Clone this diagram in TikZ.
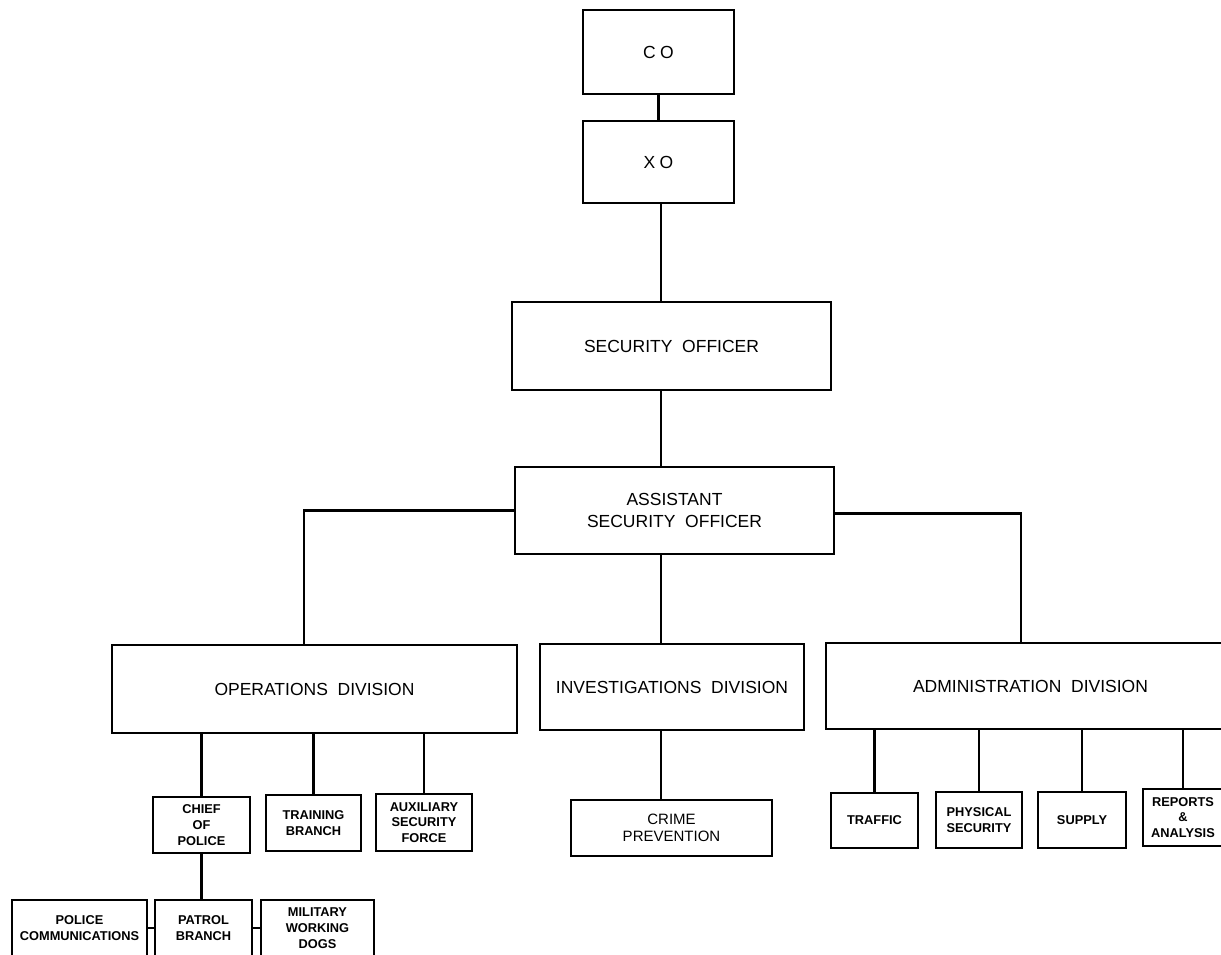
\documentclass[tikz,border=0pt]{standalone}
\usepackage{fontspec}
\setmainfont{Liberation Sans}
\newfontfamily\widefont[LetterSpace=25]{Liberation Sans}
\begin{document}
\begin{tikzpicture}[x=1pt,y=-1pt,
  box/.style={draw, line width=1.5pt, inner sep=0pt, align=center, rectangle},
  bigbox/.style={box, font=\fontsize{17.5}{22}\selectfont},
  smallbox/.style={box, font=\fontsize{12.8}{15.8}\selectfont\bfseries},
  link/.style={line width=2.2pt}]
\useasboundingbox (0,0) rectangle (1221,954);
\fill[white] (0,0) rectangle (1221,954);
\coordinate (spine) at (661,0);
% top chain
\node[bigbox, minimum width=151pt, minimum height=84pt] (co) at (658.5,52) {\widefont\fontsize{17.5}{22}\selectfont CO};
\node[bigbox, minimum width=151pt, minimum height=82pt] (xo) at (658.5,162) {\widefont\fontsize{17.5}{22}\selectfont XO};
\node[bigbox, minimum width=319pt, minimum height=88pt] (so) at (671.5,346) {SECURITY\ \ OFFICER};
\node[bigbox, minimum width=319pt, minimum height=87pt] (aso) at (674.5,510.5) {ASSISTANT\\SECURITY\ \ OFFICER};
% divisions
\node[bigbox, minimum width=405pt, minimum height=88pt] (ops) at (314.5,689) {OPERATIONS\ \ DIVISION};
\node[bigbox, minimum width=264pt, minimum height=86pt] (inv) at (672,687) {INVESTIGATIONS\ \ DIVISION};
\node[bigbox, minimum width=409pt, minimum height=86pt] (adm) at (1030.5,686) {ADMINISTRATION\ \ DIVISION};
% operations children
\node[smallbox, minimum width=97pt, minimum height=56pt] (chief) at (201.5,825) {CHIEF\\OF\\POLICE};
\node[smallbox, minimum width=95pt, minimum height=56pt] (train) at (313.5,823) {TRAINING\\BRANCH};
\node[smallbox, minimum width=96pt, minimum height=57pt] (aux) at (424,822.5) {AUXILIARY\\SECURITY\\FORCE};
% investigations child
\node[bigbox, minimum width=201pt, minimum height=56pt, font=\fontsize{15}{17}\selectfont] (crime) at (671.5,828) {CRIME\\PREVENTION};
% administration children
\node[smallbox, minimum width=87pt, minimum height=55pt] (traffic) at (874.5,820.5) {TRAFFIC};
\node[smallbox, minimum width=86pt, minimum height=56pt] (phys) at (979,820) {PHYSICAL\\SECURITY};
\node[smallbox, minimum width=88pt, minimum height=56pt] (supply) at (1082,820) {SUPPLY};
\node[smallbox, minimum width=80pt, minimum height=57pt] (reports) at (1183,817.5) {REPORTS\\\&\\ANALYSIS};
% chief of police children
\node[smallbox, minimum width=135pt, minimum height=56pt] (comm) at (79.5,928) {POLICE\\COMMUNICATIONS};
\node[smallbox, minimum width=97pt, minimum height=56pt] (patrol) at (203.5,928) {PATROL\\BRANCH};
\node[smallbox, minimum width=113pt, minimum height=56pt] (dogs) at (317.5,928) {MILITARY\\WORKING\\DOGS};
% connectors
\draw[link] (co.south) -- (xo.north);
\draw[link] (spine |- xo.south) -- (spine |- so.north);
\draw[link] (spine |- so.south) -- (spine |- aso.north);
\draw[link] (spine |- aso.south) -- (spine |- inv.north);
\draw[link] (aso.west) -| ([xshift=-10.5pt]ops.north);
\draw[link] ([yshift=-3pt]aso.east) -| ([xshift=-9.5pt]adm.north);
\draw[link] (chief.north) -- (chief.north |- ops.south);
\draw[link] (train.north) -- (train.north |- ops.south);
\draw[link] (aux.north) -- (aux.north |- ops.south);
\draw[link] (crime.north -| spine) -- (inv.south -| spine);
\draw[link] (traffic.north) -- (traffic.north |- adm.south);
\draw[link] (phys.north) -- (phys.north |- adm.south);
\draw[link] (supply.north) -- (supply.north |- adm.south);
\draw[link] (reports.north) -- (reports.north |- adm.south);
\draw[link] (patrol.north -| chief.south) -- (chief.south);
\draw[link] (comm.east) -- (patrol.west);
\draw[link] (patrol.east) -- (dogs.west);
\end{tikzpicture}
\end{document}
